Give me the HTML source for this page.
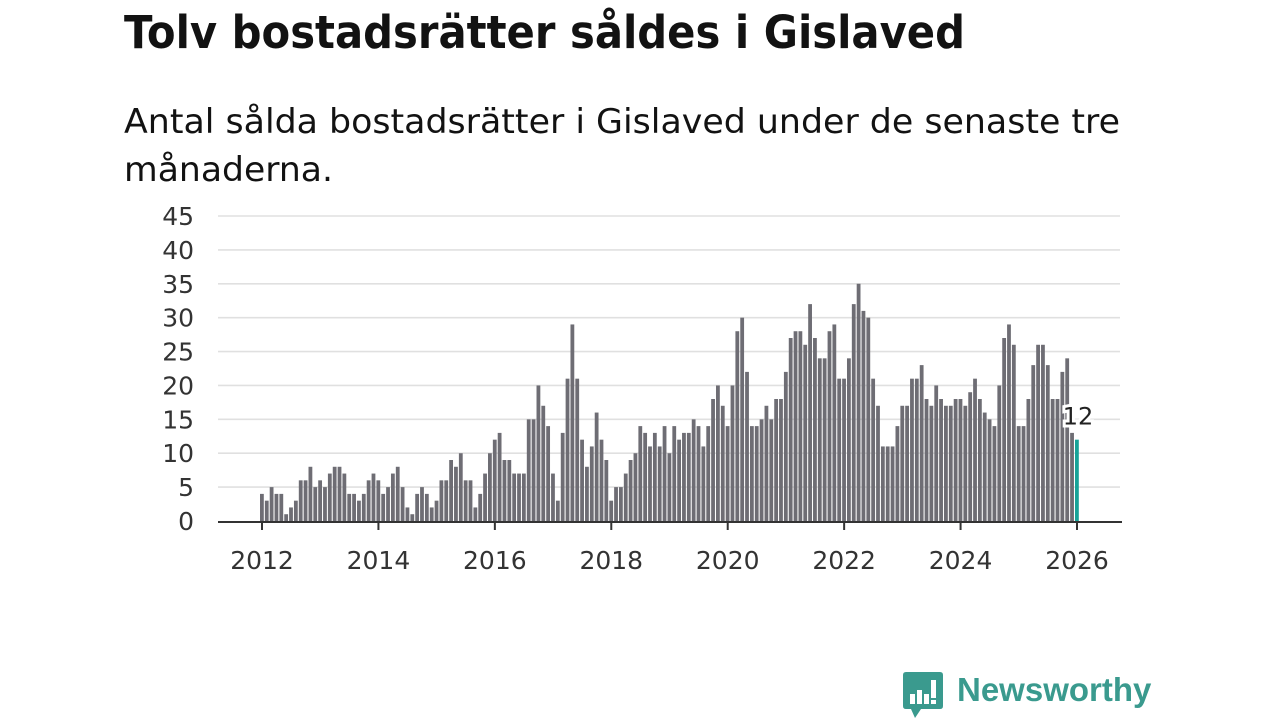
<!DOCTYPE html>
<html><head><meta charset="utf-8"><style>
body{margin:0;width:1280px;height:720px;background:#fff;font-family:"DejaVu Sans","Liberation Sans",sans-serif;overflow:hidden;position:relative}
</style></head><body>
<svg id="head" width="1280" height="200" style="position:absolute;left:0;top:0">
<text x="124" y="48" font-size="45" font-weight="bold" fill="#121212" textLength="841" lengthAdjust="spacingAndGlyphs">Tolv bostadsrätter såldes i Gislaved</text>
<text font-size="34" fill="#121212"><tspan x="124" y="133" textLength="996" lengthAdjust="spacingAndGlyphs">Antal sålda bostadsrätter i Gislaved under de senaste tre</tspan><tspan x="124" y="181" textLength="209" lengthAdjust="spacingAndGlyphs">månaderna.</tspan></text>
</svg>
<svg id="chart" width="1280" height="720" style="position:absolute;left:0;top:0"></svg>
<div style="position:absolute;left:903px;top:672px;width:40px;height:48px">
<svg width="40" height="48"><path d="M3 0H37Q40 0 40 3V34Q40 37 37 37H18L12 46L8 37H3Q0 37 0 34V3Q0 0 3 0Z" fill="#3a9a8e"/>
<rect x="7" y="22" width="5" height="10" fill="#fff"/><rect x="14" y="18" width="5" height="14" fill="#fff"/><rect x="21" y="22" width="5" height="10" fill="#fff"/><rect x="28" y="8" width="5" height="18" fill="#fff"/><rect x="28" y="28" width="5" height="4" fill="#fff"/></svg></div>
<div style="position:absolute;left:957px;top:671px;font-family:'Liberation Sans',sans-serif;font-size:33px;font-weight:bold;color:#3a9a8e">Newsworthy</div>
<script>
const years=[2012,2013,2014,2015,2016,2017,2018,2019,2020,2021,2022,2023,2024,2025,2026];
const yTicks=[0,5,10,15,20,25,30,35,40,45];
const xTickLabels=[2012,2014,2016,2018,2020,2022,2024,2026];
const values=[
4,3,5,4,4,1,2,3,6,6,8,5,
6,5,7,8,8,7,4,4,3,4,6,7,
6,4,5,7,8,5,2,1,4,5,4,2,
3,6,6,9,8,10,6,6,2,4,7,10,
12,13,9,9,7,7,7,15,15,20,17,14,
7,3,13,21,29,21,12,8,11,16,12,9,
3,5,5,7,9,10,14,13,11,13,11,14,
10,14,12,13,13,15,14,11,14,18,20,17,
14,20,28,30,22,14,14,15,17,15,18,18,
22,27,28,28,26,32,27,24,24,28,29,21,
21,24,32,35,31,30,21,17,11,11,11,14,
17,17,21,21,23,18,17,20,18,17,17,18,
18,17,19,21,18,16,15,14,20,27,29,26,
14,14,18,23,26,26,23,18,18,22,24,13,
12];
const NS="http://www.w3.org/2000/svg";
const svg=document.getElementById('chart');
const x0=262,x1=1077,y0=521,y45=216;
const xs=m=>x0+(x1-x0)*m/168;
const ys=v=>y0-(y0-y45)*v/45;
function mk(t,a){const e=document.createElementNS(NS,t);for(const k in a)e.setAttribute(k,a[k]);svg.appendChild(e);return e;}
yTicks.forEach(v=>{
  if(v>0){const g=mk('line',{x1:218,x2:1120,y1:ys(v),y2:ys(v),stroke:'#e0e0e0','stroke-width':1.6});
  
  }
  const t=mk('text',{x:194,y:ys(v)+9,'text-anchor':'end','font-size':25,fill:'#333'});
  t.textContent=v;
  
  
});
values.forEach((v,i)=>{
  const last=i===values.length-1;
  const r=mk('rect',{x:xs(i)-2,y:ys(v),width:3.8,height:y0-ys(v),fill:last?'#17a398':'#6e6d74'});
  
  
});
const ax=mk('line',{x1:218,x2:1122,y1:y0+1,y2:y0+1,stroke:'#333','stroke-width':2});


xTickLabels.forEach(yr=>{
  const m=(yr-years[0])*12;
  const tk=mk('line',{x1:xs(m),x2:xs(m),y1:y0,y2:y0+9,stroke:'#333','stroke-width':2});
  
  
  const t=mk('text',{x:xs(m),y:569,'text-anchor':'middle','font-size':25,fill:'#333'});
  t.textContent=yr;
  
  
});
const li=values.length-1;
const lbl=mk('text',{x:xs(li)+1,y:ys(values[li])-15,'text-anchor':'middle','font-size':24,fill:'#222',stroke:'#fff','stroke-width':6,'paint-order':'stroke'});
lbl.textContent=values[li];


</script>
</body></html>
